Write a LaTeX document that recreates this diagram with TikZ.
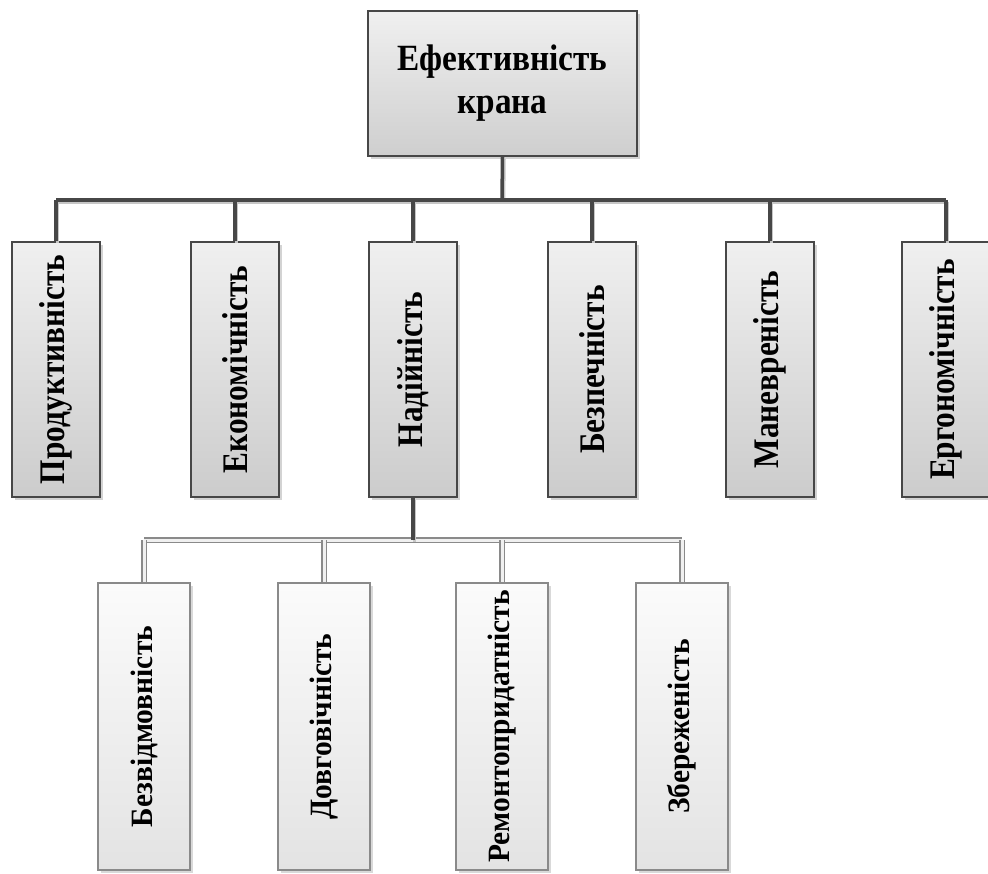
\documentclass[tikz,border=0pt]{standalone}
\usepackage{fontspec}
\setmainfont{Liberation Serif}
\usetikzlibrary{shadows}
\definecolor{edgedark}{HTML}{474747}
\definecolor{edgelight}{HTML}{8A8A8A}
\newcommand\vlabel[2]{\rotatebox{90}{\scalebox{#1}[1]{#2}}}
\tikzset{
  topbox/.style={draw=edgedark, line width=1.6pt, top color=gray!12, bottom color=gray!38,
    minimum width=269pt, minimum height=145pt, inner sep=0pt, align=center,
    font=\fontsize{37}{43}\selectfont\bfseries,
    drop shadow={shadow xshift=3pt, shadow yshift=-3pt, opacity=0.35, fill=gray}},
  mainbox/.style={draw=edgedark, line width=1.6pt, top color=gray!12, bottom color=gray!40,
    minimum width=88pt, minimum height=255pt, inner sep=0pt,
    font=\fontsize{36}{40}\selectfont\bfseries,
    drop shadow={shadow xshift=3pt, shadow yshift=-3pt, opacity=0.35, fill=gray}},
  subbox/.style={draw=edgelight, line width=1.3pt, top color=gray!3, bottom color=gray!22,
    minimum width=92pt, minimum height=287pt, inner sep=0pt,
    font=\fontsize{31}{34}\selectfont\bfseries,
    drop shadow={shadow xshift=3pt, shadow yshift=-3pt, opacity=0.3, fill=gray}},
  mainline/.style={draw=edgedark, line width=3.5pt,
    preaction={draw=gray!45, line width=3.5pt, transform canvas={shift={(1.5pt,-2pt)}}}},
  subline/.style={draw=edgelight, double=gray!12, double distance=3pt, line width=1.6pt},
}
\begin{document}
\begin{tikzpicture}[x={(1pt,0)}, y={(0,-1pt)}]
\useasboundingbox (0,0) rectangle (988,874);
% top
\node[topbox] (top) at (502.5,83.5) {\scalebox{0.9}[1]{Ефективність}\\\scalebox{0.9}[1]{крана}};
% level 1
\node[mainbox] (p1) at (56,369.5) {\vlabel{0.87}{Продуктивність}};
\node[mainbox] (p2) at (235,369.5) {\vlabel{0.87}{Економічність}};
\node[mainbox] (p3) at (413,369.5) {\vlabel{0.87}{Надійність}};
\node[mainbox] (p4) at (592,369.5) {\vlabel{0.87}{Безпечність}};
\node[mainbox] (p5) at (770,369.5) {\vlabel{0.87}{Маневреність}};
\node[mainbox] (p6) at (946,369.5) {\vlabel{0.87}{Ергономічність}};
% level 2
\node[subbox] (s1) at (144,726.5) {\vlabel{0.95}{Безвідмовність}};
\node[subbox] (s2) at (324,726.5) {\vlabel{0.95}{Довговічність}};
\node[subbox] (s3) at (502,726.5) {\vlabel{0.95}{Ремонтопридатність}};
\node[subbox] (s4) at (682,726.5) {\vlabel{0.95}{Збереженість}};
% buses
\coordinate (bus1) at (502,200);
\coordinate (bus2) at (413,540);
% connectors level 1
\draw[mainline] (top.south) -- (bus1);
\draw[mainline] (bus1 -| p1.north) -- (bus1 -| p6.north);
\foreach \n in {p1,p2,p3,p4,p5,p6}
  \draw[mainline] (bus1 -| \n.north) -- (\n.north);
% connectors level 2
\draw[subline] (bus2 -| s1.north) -- (bus2 -| s4.north);
\foreach \n in {s1,s2,s3,s4}
  \draw[subline] (bus2 -| \n.north) -- (\n.north);
\draw[mainline] (p3.south) -- (bus2);
\end{tikzpicture}
\end{document}
